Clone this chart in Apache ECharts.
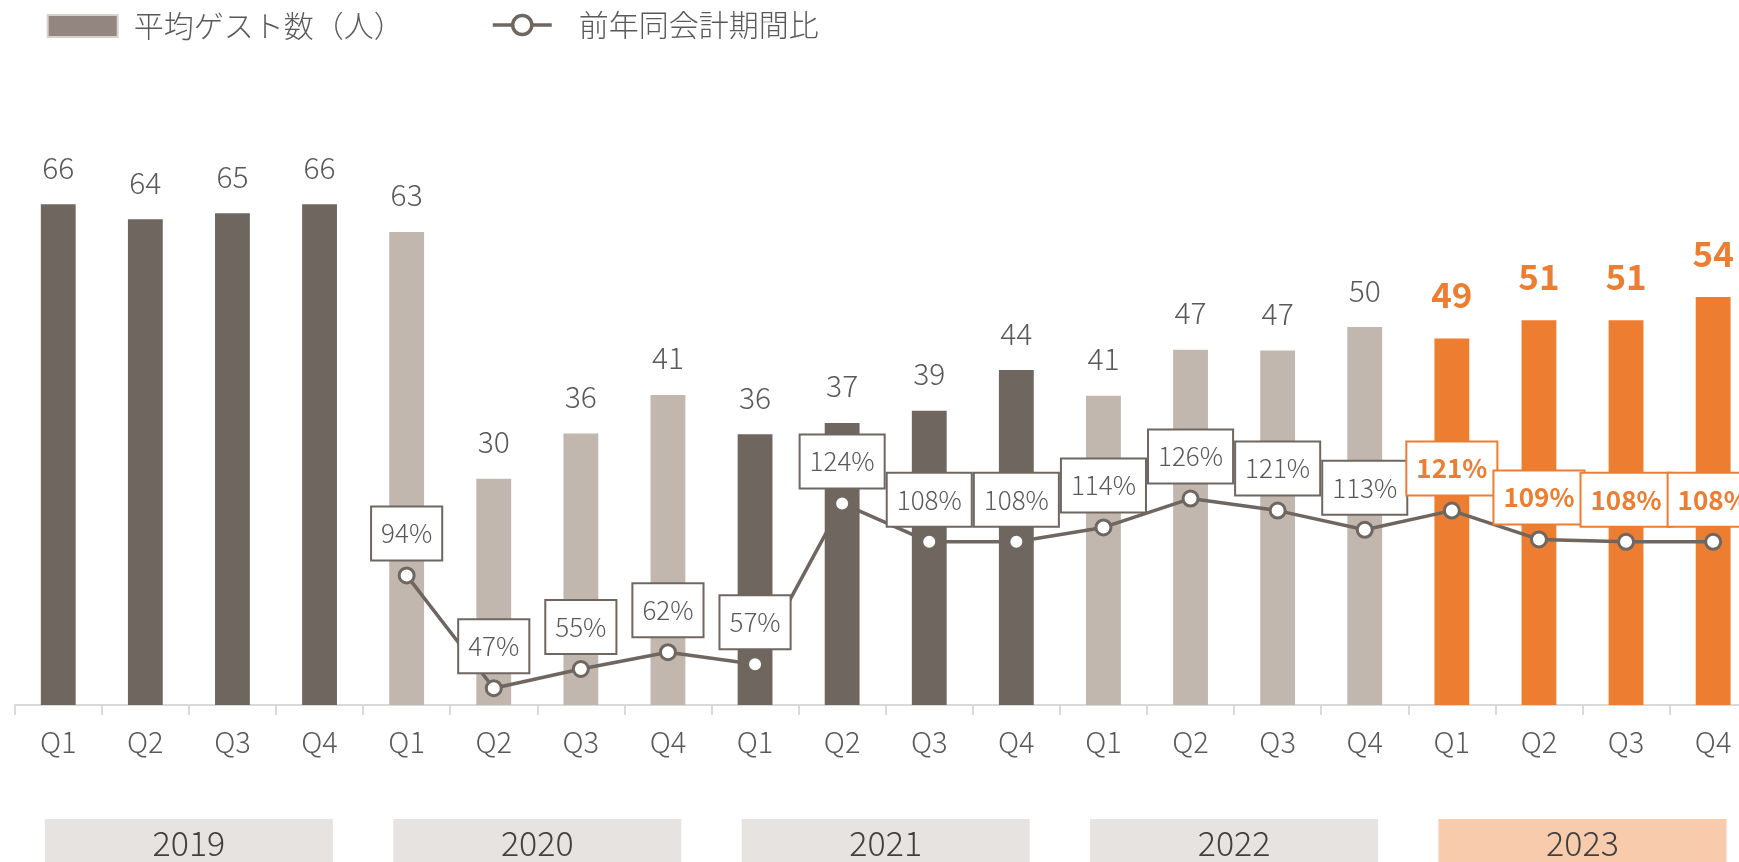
<!DOCTYPE html>
<html><head><meta charset="utf-8">
<script src="https://cdn.jsdelivr.net/npm/echarts@6/dist/echarts.min.js"></script>
<style>html,body{margin:0;padding:0;background:#fff}#c{width:1739px;height:862px}</style>
</head><body><div id="c"></div>
<script>
// ---- data ----
const years = ['2019', '2020', '2021', '2022', '2023'];
const quarterLabels = ['Q1', 'Q2', 'Q3', 'Q4'];
const categories = years.flatMap(y => quarterLabels.map(q => y + ' ' + q));
const guests = [66.4, 64.4, 65.2, 66.4, 62.7, 30.0, 36.0, 41.1, 35.9, 37.4, 39.0, 44.4, 41.0, 47.1, 47.0, 50.1, 48.6, 51.0, 51.0, 54.1];
const yoyPct = [null, null, null, null, 94, 47, 55, 62, 57, 124, 108, 108, 114, 126, 121, 113, 121, 109, 108, 108];
const seriesNames = ['平均ゲスト数（人）', '前年同会計期間比'];
const highlightYear = '2023';

// ---- styles ----
const FONT = "'Noto Sans CJK JP', 'Noto Sans', sans-serif";
const DARK = '#6f6660', LIGHT = '#c1b7ae', ORANGE = '#ed7d31', TEXT = '#595959';
const LIGHTW = 300;

function yearOf(i) { return categories[i].split(' ')[0]; }
function toneOf(i) {
  const y = yearOf(i);
  if (y === highlightYear) return ORANGE;
  return years.indexOf(y) % 2 === 0 ? DARK : LIGHT;
}

const barData = guests.map((v, i) => {
  const hl = yearOf(i) === highlightYear;
  return {
    value: v,
    itemStyle: { color: toneOf(i) },
    label: hl ? { fontSize: 35, lineHeight: 35, fontWeight: 'bold', color: ORANGE, distance: 26 } : {}
  };
});
const lineData = yoyPct.map((v, i) => {
  const hl = yearOf(i) === highlightYear;
  return {
    value: v === null ? '-' : v,
    label: hl ? { color: ORANGE, fontWeight: 'bold', borderColor: ORANGE, borderWidth: 2 } : {}
  };
});

const chart = echarts.init(document.getElementById('c'), null, { renderer: 'canvas' });
chart.setOption({
  animation: false,
  textStyle: { fontFamily: FONT },
  legend: [
    {
      data: [{ name: seriesNames[0], icon: 'rect', itemStyle: { color: '#938680', borderColor: '#d9d2cc', borderWidth: 2 } }],
      left: 46.7, top: 11, padding: 0,
      itemWidth: 70, itemHeight: 22,
      textStyle: { fontSize: 30, fontWeight: LIGHTW, color: TEXT, fontFamily: FONT, padding: [0, 0, 0, 11] }
    },
    {
      data: [seriesNames[1]],
      left: 491, top: 10, padding: 0,
      itemWidth: 59, itemHeight: 24,
      itemStyle: { color: '#ffffff', borderColor: DARK, borderWidth: 3.5 },
      lineStyle: { color: DARK, width: 3.5 },
      textStyle: { fontSize: 30, fontWeight: LIGHTW, color: TEXT, fontFamily: FONT, padding: [0, 0, 0, 22] }
    }
  ],
  grid: { left: 14.7, top: 177, width: 1742, height: 528, outerBoundsMode: 'none', containLabel: false },
  xAxis: [
    {
      type: 'category', data: categories, boundaryGap: true,
      axisLine: { show: true, lineStyle: { color: '#d9d9d9', width: 2 } },
      axisTick: { show: true, length: 10, lineStyle: { color: '#d9d9d9', width: 2 } },
      axisLabel: {
        interval: 0, margin: 22, fontSize: 29, lineHeight: 29, fontWeight: LIGHTW, color: TEXT, fontFamily: FONT,
        formatter: v => v.split(' ')[1]
      }
    },
    {
      type: 'category', data: years, position: 'bottom', offset: 0, boundaryGap: true,
      axisLine: { show: false }, axisTick: { show: false },
      axisLabel: {
        interval: 0, margin: 114,
        formatter: v => (v === highlightYear ? '{hl|' + v + '}' : '{n|' + v + '}'),
        rich: {
          n: { width: 288, height: 48, lineHeight: 48, align: 'center', fontSize: 34, fontWeight: LIGHTW, color: '#404040', fontFamily: FONT, backgroundColor: '#e7e3e0' },
          hl: { width: 288, height: 48, lineHeight: 48, align: 'center', fontSize: 34, fontWeight: LIGHTW, color: '#404040', fontFamily: FONT, backgroundColor: '#f8cbad' }
        }
      }
    }
  ],
  yAxis: [
    { type: 'value', min: 0, max: 70, show: false, splitLine: { show: false } },
    { type: 'value', min: 40, max: 260, show: false, splitLine: { show: false } }
  ],
  series: [
    {
      name: seriesNames[0], type: 'bar', xAxisIndex: 0, yAxisIndex: 0,
      barWidth: '40%', itemStyle: { color: '#938680' },
      data: barData,
      label: {
        show: true, position: 'top', distance: 22,
        fontSize: 30, lineHeight: 30, fontWeight: LIGHTW, color: TEXT, fontFamily: FONT,
        formatter: p => String(Math.round(p.value))
      },
      z: 2
    },
    {
      name: seriesNames[1], type: 'line', xAxisIndex: 0, yAxisIndex: 1,
      data: lineData, connectNulls: false,
      symbol: 'circle', symbolSize: 15, showAllSymbol: true,
      itemStyle: { color: '#ffffff', borderColor: DARK, borderWidth: 3 },
      lineStyle: { color: DARK, width: 3.5 },
      label: {
        show: true, position: 'top', distance: 7,
        fontSize: 26, lineHeight: 28, fontWeight: LIGHTW, color: TEXT, fontFamily: FONT,
        backgroundColor: '#ffffff', borderColor: DARK, borderWidth: 2,
        padding: [12, 9, 12, 9],
        formatter: p => p.value + '%'
      },
      z: 5
    }
  ]
});
</script></body></html>
